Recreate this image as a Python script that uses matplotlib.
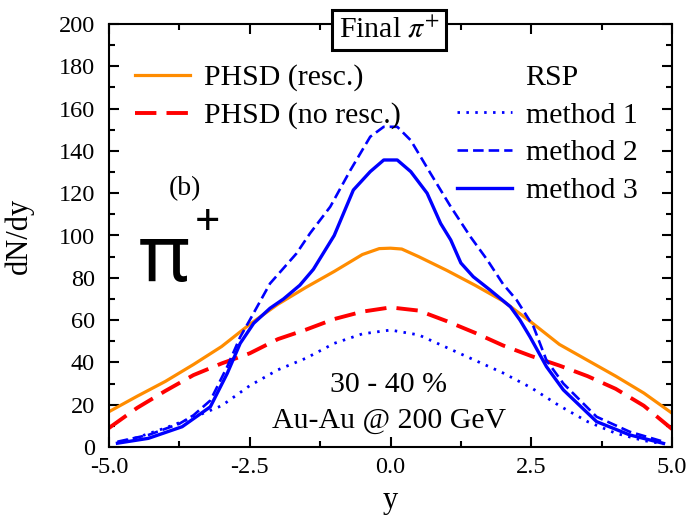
import numpy as np
import matplotlib
matplotlib.use("Agg")
import matplotlib.pyplot as plt
from matplotlib.ticker import MultipleLocator, FormatStrFormatter
from matplotlib.lines import Line2D

plt.rcParams['font.family'] = ['Liberation Serif', 'DejaVu Serif']
plt.rcParams['mathtext.fontset'] = 'stix'

# ---- data ----
x_resc = [-5, -4.5, -4, -3.5, -3, -2.5, -2, -1.5, -1, -0.5, -0.2, 0, 0.2, 0.5, 1, 1.5, 2, 2.5, 3, 3.5, 4, 4.5, 5]
y_resc = [16.7, 24, 31, 39, 47.5, 58, 67.5, 75.5, 83, 91, 93.8, 94, 93.6, 90, 83.5, 76.5, 69, 59, 48.5, 41, 33.5, 25.5, 16]

x_nresc = [-5, -4.5, -4, -3.5, -3, -2.5, -2, -1.5, -1, -0.5, 0, 0.5, 1, 1.5, 2, 2.5, 3, 3.5, 4, 4.5, 5]
y_nresc = [9, 18.5, 26.5, 34, 39.5, 44.3, 51, 55.5, 60.5, 64, 66, 64.5, 59.5, 54, 48, 43, 38.5, 33.5, 27.5, 19.5, 8.5]

x_m1 = [-4.85, -4.5, -4, -3.5, -3, -2.5, -2, -1.5, -1, -0.5, 0, 0.5, 1, 1.5, 2, 2.5, 3, 3.5, 4, 4.5, 4.85]
y_m1 = [2, 4.5, 9, 14, 19.5, 29, 36.5, 42, 49, 53.5, 55.3, 53, 47, 41, 35, 28, 19.5, 12, 6.5, 3, 1.5]

x_m2 = [-4.85, -4.3, -3.75, -3.5, -3.2, -2.9, -2.67, -2.5, -2.14, -1.67, -1.43, -1.07, -0.71, -0.36,
        -0.12, 0.12, 0.36, 0.71, 1.07, 1.42, 1.72, 2.0, 2.24, 2.54, 2.77, 3.07, 3.66, 4.25, 4.85]
y_m2 = [2.5, 5.7, 11, 15, 22, 38, 52, 60, 77.3, 91.5, 101, 113.6, 131, 146.7,
        151.4, 151.4, 145, 129.4, 113.6, 99.4, 88.4, 77, 69.5, 56.9, 41, 30, 14.3, 7.2, 2.5]

x_m3 = [-4.85, -4.3, -3.7, -3.2, -2.9, -2.67, -2.43, -2.14, -1.9, -1.61, -1.37, -1.0, -0.66, -0.36,
        -0.12, 0.12, 0.36, 0.65, 0.89, 1.07, 1.25, 1.47, 1.77, 2.13, 2.3, 2.48, 2.77, 3.07, 3.66, 4.25, 4.85]
y_m3 = [1.8, 4.1, 9.6, 19, 34.8, 49, 58.5, 65.6, 70, 76.5, 84, 100, 121.5, 130.2,
        135.7, 135.7, 130.2, 120, 105.7, 97.9, 87, 80.5, 74.2, 66.3, 60, 52, 38, 27, 12, 5.7, 1.7]

x_ticks = [-5.0, -2.5, 0.0, 2.5, 5.0]
y_ticks = [0, 20, 40, 60, 80, 100, 120, 140, 160, 180, 200]

ORANGE = '#FF8C00'
RED = '#FF0000'
BLUE = '#0000FF'

fig = plt.figure(figsize=(6.89, 5.18), dpi=100)
ax = fig.add_axes([109/689, (518-447)/518, (672-109)/689, (447-24)/518])

l_resc, = ax.plot(x_resc, y_resc, color=ORANGE, lw=2.3, solid_joinstyle='round')
l_nresc, = ax.plot(x_nresc, y_nresc, color=RED, lw=2.8, dashes=(5.5, 2.6))
l_m1, = ax.plot(x_m1, y_m1, color=BLUE, lw=2.0, dashes=(0.9, 2.3))
l_m2, = ax.plot(x_m2, y_m2, color=BLUE, lw=1.9, dashes=(4.0, 1.9))
l_m3, = ax.plot(x_m3, y_m3, color=BLUE, lw=2.4, solid_joinstyle='round')

ax.set_xlim(-5, 5)
ax.set_ylim(0, 200)
ax.set_xticks(x_ticks)
ax.set_yticks(y_ticks)
ax.xaxis.set_major_formatter(FormatStrFormatter('%.1f'))
ax.xaxis.set_minor_locator(MultipleLocator(1.25))
ax.yaxis.set_minor_locator(MultipleLocator(10))
ax.tick_params(which='both', direction='in', top=True, right=True, width=1.5)
ax.tick_params(which='major', length=7.5)
ax.tick_params(which='minor', length=4.5)
ax.tick_params(axis='x', labelsize=17.5, pad=7)
ax.tick_params(axis='y', labelsize=17.5, pad=10)
for s in ax.spines.values():
    s.set_linewidth(1.5)

ax.set_xlabel('y', fontsize=22, labelpad=6)
ax.set_ylabel('dN/dy', fontsize=22, labelpad=18)

leg1 = ax.legend([l_resc, l_nresc], ['PHSD (resc.)', 'PHSD (no resc.)'],
                 loc='upper left', bbox_to_anchor=(0.046, 0.905), frameon=False,
                 fontsize=21.5, handlelength=1.85, handletextpad=0.45,
                 labelspacing=0.36, borderpad=0, borderaxespad=0)
ax.add_artist(leg1)
blank = Line2D([], [], color='none')
leg2 = ax.legend([blank, l_m1, l_m2, l_m3], ['RSP', 'method 1', 'method 2', 'method 3'],
                 loc='upper left', bbox_to_anchor=(0.618, 0.905), frameon=False,
                 fontsize=21.5, handlelength=1.85, handletextpad=0.45,
                 labelspacing=0.36, borderpad=0, borderaxespad=0)

ax.text(0.498, 0.986, r'Final $\pi^{+}$', transform=ax.transAxes, ha='center', va='center',
        fontsize=21.5, zorder=10,
        bbox=dict(boxstyle='square,pad=0.22', facecolor='white', edgecolor='black', linewidth=2.2))

ax.text(0.135, 0.61, '(b)', transform=ax.transAxes, ha='center', va='center', fontsize=20)
ax.text(0.497, 0.147, '30 - 40 %', transform=ax.transAxes, ha='center', va='center', fontsize=21.5)
ax.text(0.497, 0.061, 'Au-Au @ 200 GeV', transform=ax.transAxes, ha='center', va='center', fontsize=21.5)

ax.text(0.053, 0.392, 'π', transform=ax.transAxes, ha='left', va='baseline',
        fontsize=56, fontweight='semibold', family=['Noto Sans', 'DejaVu Sans'])
ax.text(0.152, 0.50, '+', transform=ax.transAxes, ha='left', va='baseline',
        fontsize=32, fontweight='semibold', family=['Noto Sans', 'DejaVu Sans'])

fig.savefig('out.png', dpi=100)
